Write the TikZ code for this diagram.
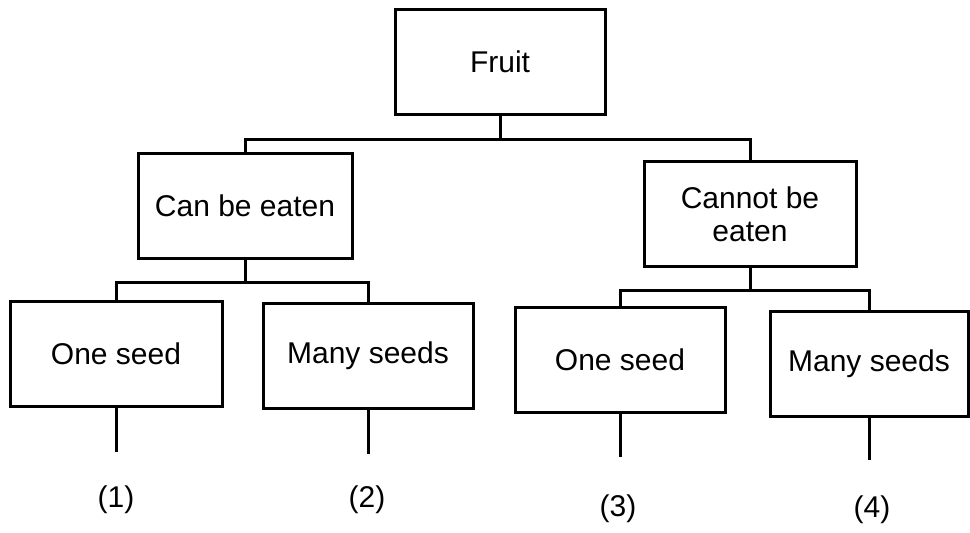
\documentclass[tikz,border=0pt]{standalone}
\usepackage{fontspec}
\setmainfont{Liberation Sans}
\begin{document}
\begin{tikzpicture}[x=1pt,y=-1pt,
  box/.style={draw=black,line width=3pt,minimum width=#1,minimum height=105pt,inner sep=0pt,align=center,font=\fontsize{30}{33}\selectfont},
  lbl/.style={inner sep=0pt,font=\fontsize{30}{33}\selectfont},
  conn/.style={draw=black,line width=3pt}]
\useasboundingbox (0,0) rectangle (970,533);
\node[box=210pt] (fruit) at (500,62) {Fruit};
\node[box=214pt] (can) at (245,206) {Can be eaten};
\node[box=212pt] (cannot) at (750,214) {Cannot be\\eaten};
\node[box=212pt] (s1) at (116,354) {One seed};
\node[box=210pt] (s2) at (368,356) {Many seeds};
\node[box=210pt] (s3) at (620,360) {One seed};
\node[box=198pt] (s4) at (869,364) {Many seeds};
\coordinate (j1) at (500,139);
\coordinate (j2) at (245,282);
\coordinate (j3) at (750,290);
\draw[conn] (fruit.south) -- (j1);
\draw[conn] (can.north) |- (j1) -| (cannot.north);
\draw[conn] (can.south) -- (j2);
\draw[conn] (s1.north) |- (j2) -| (s2.north);
\draw[conn] (cannot.south) -- (j3);
\draw[conn] (s3.north) |- (j3) -| (s4.north);
\coordinate (e1) at (116,452);
\coordinate (e2) at (368,454);
\coordinate (e3) at (620,457);
\coordinate (e4) at (869,460);
\draw[conn] (s1.south) -- (e1);
\draw[conn] (s2.south) -- (e2);
\draw[conn] (s3.south) -- (e3);
\draw[conn] (s4.south) -- (e4);
\node[lbl] (l1) at (116,500) {(1)};
\node[lbl] (l2) at (367,500) {(2)};
\node[lbl] (l3) at (618,509) {(3)};
\node[lbl] (l4) at (872,510) {(4)};
\end{tikzpicture}
\end{document}
